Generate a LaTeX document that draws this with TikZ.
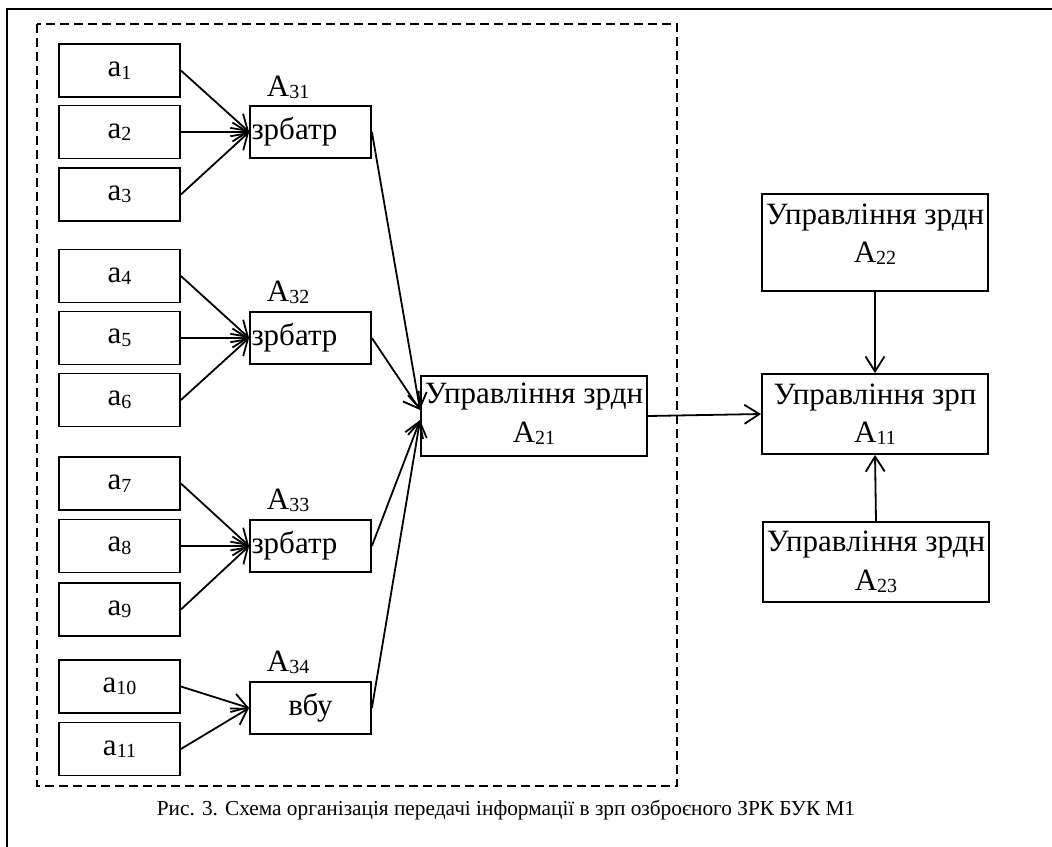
\documentclass[tikz,border=0pt]{standalone}
\usepackage{fontspec}
\setmainfont{Liberation Serif}
\usetikzlibrary{arrows.meta,calc}
\newcommand{\sbs}[1]{\raisebox{-2.5pt}{\fontsize{20}{20}\selectfont #1}}
\begin{document}
\begin{tikzpicture}[x=1pt,y=-1pt,
  line width=1.8pt,
  ibox/.style={draw,line width=1.8pt,inner sep=0pt,minimum width=121pt,minimum height=53pt,font=\fontsize{31}{34}\selectfont},
  zbox/.style={draw,line width=1.8pt,inner ysep=0pt,inner xsep=1.5pt,text width=118pt,align=left,minimum height=52pt,font=\fontsize{31}{34}\selectfont},
  vbox/.style={draw,line width=1.8pt,inner sep=0pt,minimum width=121pt,minimum height=52pt,font=\fontsize{31}{34}\selectfont},
  bigbox/.style={draw,line width=1.8pt,inner sep=0pt,minimum width=226pt},
  txt/.style={anchor=base,inner sep=0pt,font=\fontsize{31}{34}\selectfont},
  lab/.style={anchor=base west,inner sep=0pt,font=\fontsize{31}{34}\selectfont},
  arr/.style={-{Straight Barb[length=15pt,width=19pt,line width=1.8pt]}}
]
\useasboundingbox (0,0) rectangle (1052,846);
% outer frame
\draw[line width=2pt] (7,860) -- (7,9) -- (1070,9);
% dashed region
\draw[line width=1.8pt,dash pattern=on 9pt off 5pt] (37,24) rectangle (677,786);

% input boxes
\node[ibox] (a1) at (119.5,70.5) {a\sbs{1}};
\node[ibox] (a2) at (119.5,132) {a\sbs{2}};
\node[ibox] (a3) at (119.5,194.5) {a\sbs{3}};
\node[ibox] (a4) at (119.5,276) {a\sbs{4}};
\node[ibox] (a5) at (119.5,338) {a\sbs{5}};
\node[ibox] (a6) at (119.5,400) {a\sbs{6}};
\node[ibox] (a7) at (119.5,483.5) {a\sbs{7}};
\node[ibox] (a8) at (119.5,546) {a\sbs{8}};
\node[ibox] (a9) at (119.5,609.5) {a\sbs{9}};
\node[ibox] (a10) at (119.5,686.5) {a\sbs{10}};
\node[ibox] (a11) at (119.5,749) {a\sbs{11}};

% battery boxes
\node[zbox] (z1) at (310.5,132) {зрбатр};
\node[zbox] (z2) at (310.5,338) {зрбатр};
\node[zbox] (z3) at (310.5,546) {зрбатр};
\node[vbox] (z4) at (310.5,708) {вбу};
\node[lab] (l1) at (266,96) {A\sbs{31}};
\node[lab] (l2) at (266,301) {A\sbs{32}};
\node[lab] (l3) at (266,509) {A\sbs{33}};
\node[lab] (l4) at (266,671) {A\sbs{34}};

% division box
\node[bigbox,minimum height=80pt] (A21) at (534,416) {};
\node[txt] (t21a) at (534,403) {Управління зрдн};
\node[txt] (t21b) at (534,442) {A\sbs{21}};

% regiment boxes
\node[bigbox,minimum height=97pt] (A22) at (875,242.5) {};
\node[txt] (t22a) at (875,224) {Управління зрдн};
\node[txt] (t22b) at (875,262) {A\sbs{22}};
\node[bigbox,minimum height=80pt] (A11) at (875,414) {};
\node[txt] (t11a) at (875,404) {Управління зрп};
\node[txt] (t11b) at (875,442) {A\sbs{11}};
\node[bigbox,minimum height=80pt] (A23) at (876,562) {};
\node[txt] (t23a) at (876,551) {Управління зрдн};
\node[txt] (t23b) at (876,590) {A\sbs{23}};

% connectors: inputs to batteries
\foreach \s in {a1,a2,a3} \draw[arr] (\s.east) -- (z1.west);
\foreach \s in {a4,a5,a6} \draw[arr] (\s.east) -- (z2.west);
\foreach \s in {a7,a8,a9} \draw[arr] (\s.east) -- (z3.west);
\foreach \s in {a10,a11} \draw[arr] (\s.east) -- (z4.west);

% batteries to division
\draw[arr] (z1.east) -- ($(A21.west)+(0,-6)$);
\draw[arr] (z2.east) -- ($(A21.west)+(0,-6)$);
\draw[arr] (z3.east) -- ($(A21.west)+(0,4)$);
\draw[arr] (z4.east) -- ($(A21.west)+(0,4)$);

% division to regiment
\draw[arr] (A21.east) -- (A11.west);
\draw[arr] (A22.south) -- (A11.north);
\draw[arr] (A23.north) -- (A11.south);

% caption
\node[anchor=base,inner sep=0pt,font=\fontsize{21.3}{24}\selectfont] (cap) at (506,815)
  {Рис. 3. Схема організація передачі інформації в зрп озброєного ЗРК БУК М1};
\end{tikzpicture}
\end{document}
